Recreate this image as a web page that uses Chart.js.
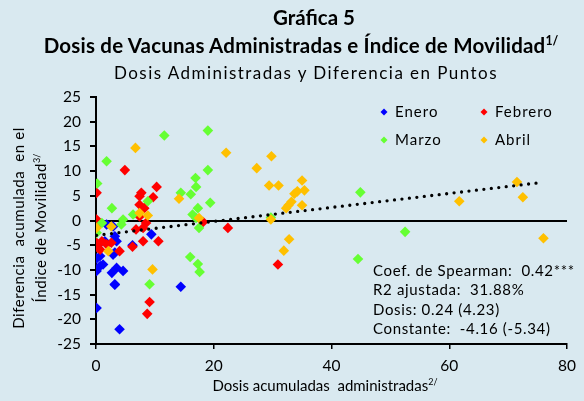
<!DOCTYPE html>
<html lang="es">
<head>
  <meta charset="UTF-8">
  <title>Gráfica 5</title>
  <script src="https://cdn.jsdelivr.net/npm/chart.js"></script>
  <style>
    body { margin: 0; }
    .wrap { position: relative; width: 584px; height: 401px; background: #D9E9F0; font-family: 'Lato', sans-serif; color: #000; overflow: hidden; }
    .wrap canvas { position: absolute; left: 0; top: 0; }
    .t { position: absolute; left: 0; width: 584px; text-align: center; white-space: nowrap; }
    .t1 { top: 5px; font-size: 20.5px; font-weight: bold; left: 22px; }
    .t2 { top: 33px; font-size: 20.5px; font-weight: bold; left: 9px; letter-spacing: 0.2px; }
    .t3 { top: 62px; font-size: 17px; left: 14px; letter-spacing: 1.45px; }
    sup { font-size: 0.6em; line-height: 0; letter-spacing: 0; }
    .xt { top: 376px; font-size: 15px; left: 33px; letter-spacing: 0; }
    .yt { position: absolute; left: 29px; top: 228px; width: 260px; text-align: center; font-size: 15px; line-height: 22px;
          letter-spacing: 0.6px; transform: translate(-50%, -50%) rotate(-90deg); white-space: nowrap; }
  </style>
</head>
<body>
  <div class="wrap">
    <canvas id="grafica" width="584" height="401"></canvas>
    <div class="t t1">Gráfica 5</div>
    <div class="t t2">Dosis de Vacunas Administradas e Índice de Movilidad<sup>1/</sup></div>
    <div class="t t3">Dosis Administradas y Diferencia en Puntos</div>
    <div class="t xt">Dosis acumuladas&nbsp; administradas<sup>2/</sup></div>
    <div class="yt">Diferencia&nbsp; acumulada&nbsp; en el<br>Índice de Movilidad<sup>3/</sup></div>
  </div>

  <script>
    // datos: [dosis acumuladas, diferencia acumulada]
    const enero = [[0.1,-17.7],[4.0,-22.0],[3.2,-12.9],[14.4,-13.4],[0.1,-10.2],[0.7,-9.2],[1.2,-8.9],[2.7,-10.6],
      [3.5,-9.6],[4.6,-10.2],[0.1,-7.7],[0.7,-7.2],[2.9,-6.9],[1.5,-4.2],[3.5,-4.2],[3.2,-6.5],[9.4,-2.8],
      [2.9,-1.2],[3.2,-3.2],[0.1,-1.2],[1.8,-0.8],[6.2,-5.0],[0.3,-5.0],[3.2,-13.0]];
    const febrero = [[4.9,10.2],[0.1,5.6],[10.3,6.8],[7.7,5.6],[7.4,4.9],[9.7,4.7],[7.4,3.2],[8.2,2.5],[0.1,0.2],
      [7.4,0.8],[8.5,-0.5],[6.8,-1.8],[8.0,-1.5],[18.2,-0.3],[22.4,-1.5],[8.0,-4.2],[10.6,-4.2],[0.1,-4.5],
      [0.7,-5.9],[1.8,-4.8],[2.6,-4.5],[4.0,-6.2],[6.2,-5.3],[0.0,-0.5],[8.7,-18.9],[9.1,-16.5],[30.9,-8.9],
      [0.3,-5.5],[1.0,-4.2]];
    const marzo = [[0.2,7.5],[1.8,12.0],[2.7,2.5],[11.6,17.2],[19.0,18.2],[19.0,10.2],[16.9,8.6],[17.0,6.8],
      [14.4,5.6],[16.1,5.3],[19.4,3.6],[17.3,2.5],[8.8,3.9],[6.3,1.2],[4.6,0.2],[4.3,-0.8],[16.4,1.2],
      [17.5,-1.5],[0.1,-2.5],[16.0,-7.4],[17.3,-8.8],[17.6,-10.4],[9.1,-12.9],[29.7,0.6],[44.9,5.7],
      [44.5,-7.8],[52.5,-2.3],[1.0,-0.5],[17.0,0.5]];
    const abril = [[6.7,14.7],[22.1,13.7],[14.1,4.4],[7.4,1.5],[8.8,1.0],[17.5,0.5],[0.1,-1.5],[2.6,-1.2],
      [2.1,-6.2],[9.6,-9.9],[27.3,10.6],[29.8,13.0],[29.4,7.1],[31.0,7.1],[29.7,0.2],[32.8,-3.8],[31.9,-6.1],
      [35.0,8.1],[35.4,6.1],[34.2,5.9],[33.7,5.4],[33.2,3.8],[32.7,3.1],[32.3,2.5],[35.0,3.1],[61.7,3.9],
      [71.5,7.8],[72.5,4.7],[76.0,-3.6]];
    const tendencia = [[0.1,-3.0],[75.7,7.7]];

    const meses = ['Enero', 'Febrero', 'Marzo', 'Abril'];
    const colores = ['#0000FF', '#FF0000', '#66FF33', '#FFC000'];
    const estadisticas = ['Coef. de Spearman:  0.42***', 'R2 ajustada:  31.88%', 'Dosis: 0.24 (4.23)', 'Constante:  -4.16 (-5.34)'];

    const pts = arr => arr.map(p => ({ x: p[0], y: p[1] }));

    const series = [enero, febrero, marzo, abril].map((d, i) => ({
      type: 'scatter',
      label: meses[i],
      data: pts(d),
      pointStyle: 'rectRot',
      pointRadius: 5.3,
      backgroundColor: colores[i],
      borderColor: colores[i],
      borderWidth: 0,
      order: 4 - i
    }));

    // leyenda y cuadro de estadisticos dibujados dentro del area
    const extras = {
      id: 'extras',
      afterDraw(chart) {
        const ctx = chart.ctx;
        ctx.save();
        ctx.font = '15px Lato';
        ctx.letterSpacing = '1px';
        ctx.textBaseline = 'middle';
        const lx = [384, 484], ly = [112, 140];
        meses.forEach((m, i) => {
          const x = lx[i % 2], y = ly[Math.floor(i / 2)];
          ctx.fillStyle = colores[i];
          ctx.beginPath();
          ctx.moveTo(x, y - 3.5); ctx.lineTo(x + 3.5, y); ctx.lineTo(x, y + 3.5); ctx.lineTo(x - 3.5, y);
          ctx.closePath(); ctx.fill();
          ctx.fillStyle = '#000';
          ctx.fillText(m, x + 11, y);
        });
        ctx.letterSpacing = '0.65px';
        estadisticas.forEach((s, i) => ctx.fillText(s, 373, 271 + i * 19.4));
        ctx.restore();
      }
    };

    new Chart(document.getElementById('grafica'), {
      data: {
        datasets: [...series, {
          type: 'line',
          label: 'Tendencia',
          data: pts(tendencia),
          borderColor: '#000',
          borderWidth: 3.3,
          borderDash: [0, 7.5],
          borderCapStyle: 'round',
          pointRadius: 0,
          order: 0
        }]
      },
      options: {
        responsive: false,
        animation: false,
        layout: { padding: { top: 97, right: 12, left: 0, bottom: 0 } },
        plugins: { legend: { display: false }, tooltip: { enabled: false } },
        scales: {
          x: {
            type: 'linear', min: 0, max: 80,
            ticks: { stepSize: 20, color: '#000', font: { family: 'Lato', size: 15.5 }, padding: 8 },
            grid: { drawOnChartArea: false, color: '#000', tickLength: 5, lineWidth: 1.5 },
            border: { color: '#000', width: 2 },
            afterFit: s => { s.height = 57; }
          },
          y: {
            min: -25, max: 25,
            ticks: { stepSize: 5, color: '#000', font: { family: 'Lato', size: 15.5 }, padding: 9 },
            grid: {
              color: c => c.tick && c.tick.value === 0 ? '#000' : 'rgba(0,0,0,0)',
              lineWidth: 2, tickColor: '#000', tickLength: 6
            },
            border: { color: '#000', width: 2 },
            afterFit: s => { s.width = 96; }
          }
        }
      },
      plugins: [extras]
    });
  </script>
</body>
</html>
